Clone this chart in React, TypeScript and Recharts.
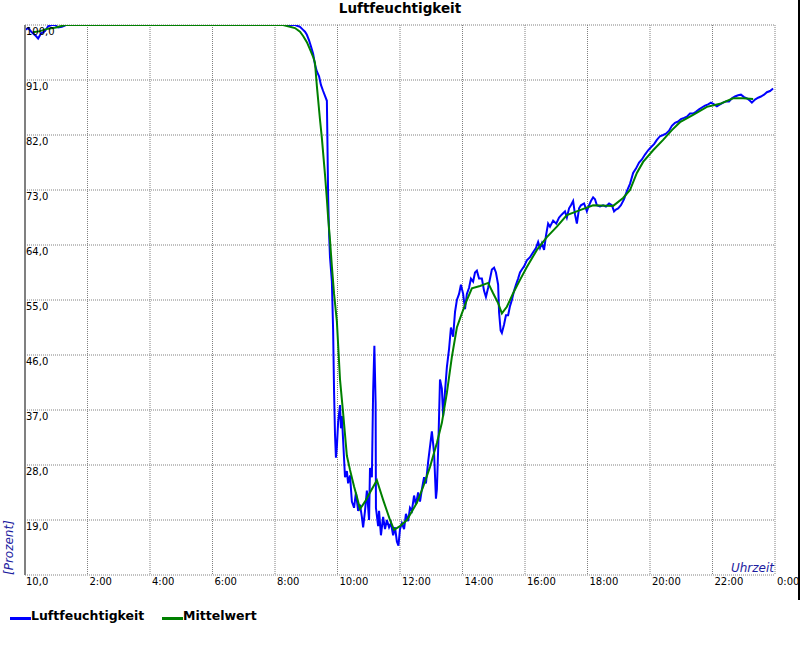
import React from 'react';
import { LineChart, Line, XAxis, YAxis, CartesianGrid, Label } from 'recharts';

// Hours of day (0..24) and relative humidity (%) – measured series
const humidityTimes = [
  0, 0.1, 0.22, 0.35, 0.42, 0.51, 0.64, 0.74, 0.86, 0.96, 1.06, 1.18, 1.31, 8.64,
  8.8, 8.9, 8.96, 9.02, 9.09, 9.15, 9.22, 9.28, 9.34, 9.41, 9.47, 9.54, 9.6, 9.66,
  9.68, 9.7, 9.73, 9.76, 9.82, 9.86, 9.89, 9.92, 9.95, 9.98, 10.02, 10.08, 10.11,
  10.14, 10.18, 10.24, 10.3, 10.34, 10.4, 10.46, 10.53, 10.59, 10.66, 10.72, 10.78,
  10.82, 10.88, 10.94, 11.01, 11.04, 11.1, 11.14, 11.18, 11.22, 11.23, 11.3, 11.33,
  11.39, 11.46, 11.52, 11.58, 11.65, 11.71, 11.78, 11.84, 11.9, 11.95, 12.0, 12.06,
  12.13, 12.19, 12.26, 12.32, 12.38, 12.45, 12.51, 12.58, 12.64, 12.7, 12.77, 12.83,
  12.9, 12.96, 13.02, 13.09, 13.15, 13.18, 13.23, 13.28, 13.34, 13.38, 13.44, 13.5,
  13.57, 13.63, 13.7, 13.76, 13.82, 13.89, 13.95, 14.02, 14.08, 14.14, 14.21, 14.27,
  14.34, 14.4, 14.46, 14.53, 14.62, 14.69, 14.75, 14.82, 14.88, 14.94, 15.01, 15.07,
  15.14, 15.17, 15.22, 15.26, 15.33, 15.39, 15.46, 15.52, 15.58, 15.65, 15.71, 15.78,
  15.84, 15.9, 15.97, 16.06, 16.16, 16.26, 16.35, 16.42, 16.48, 16.54, 16.61, 16.67,
  16.74, 16.8, 16.9, 17.0, 17.09, 17.18, 17.28, 17.34, 17.41, 17.47, 17.54, 17.6,
  17.66, 17.73, 17.79, 17.89, 17.98, 18.05, 18.11, 18.18, 18.24, 18.3, 18.4, 18.5,
  18.59, 18.69, 18.78, 18.85, 18.91, 18.98, 19.07, 19.17, 19.26, 19.36, 19.46, 19.55,
  19.65, 19.74, 19.84, 19.94, 20.03, 20.13, 20.22, 20.32, 20.42, 20.51, 20.61, 20.7,
  20.8, 20.9, 20.99, 21.09, 21.18, 21.28, 21.38, 21.47, 21.57, 21.66, 21.76, 21.86,
  21.95, 22.05, 22.14, 22.24, 22.34, 22.43, 22.53, 22.62, 22.72, 22.82, 22.91, 23.01,
  23.1, 23.2, 23.26, 23.36, 23.46, 23.55, 23.65, 23.74, 23.84, 23.94,
];
const humidityValues = [
  99.2, 99.5, 98.8, 98.2, 97.8, 98.6, 99.0, 99.8, 100, 100, 99.6, 99.7, 100, 100,
  99.7, 99.2, 98.9, 98.4, 97.5, 96.5, 95.3, 93.5, 92.4, 91.6, 90.2, 89.2, 88.4, 87.6,
  80, 72, 66, 62, 58, 50, 40, 33, 29.2, 31, 35, 37.8, 34,
  36, 32, 26, 27, 25, 26.3, 22, 21, 23.5, 20.5, 21.5, 19.5,
  17.8, 20.5, 23.8, 19, 27.5, 26, 40, 47.5, 38, 21, 18, 20.5,
  16.5, 19.5, 17.5, 19, 17.8, 18.5, 16.5, 17.8, 15.5, 14.8, 17.5, 18.5,
  17.5, 20, 18.8, 21, 20.5, 23, 21.5, 23.5, 22, 24, 26, 25,
  28.5, 31, 33.5, 30, 22.5, 24, 32, 42, 40.5, 36, 40, 44,
  47, 50.5, 49, 53, 55, 56, 57.5, 56, 53.5, 56, 57, 58.5,
  58, 59.5, 59.8, 58.5, 58.5, 56.5, 55.5, 57, 58.5, 60, 60.3, 59.5,
  57.5, 53, 50, 49.6, 51, 52.5, 52.5, 54, 55, 56.5, 57.5, 58.5,
  59.5, 60, 60.5, 61.5, 62, 62.8, 63.5, 64.5, 63.5, 64.3, 63.2, 65.5,
  67.5, 67, 68, 67.5, 68.5, 69, 69.5, 68.5, 70, 70.5, 71.2, 69,
  67.5, 70, 70.5, 70.8, 69.5, 70.5, 71.2, 71.8, 71.5, 70.5, 70.3, 70.5,
  70.3, 70.8, 70.5, 69.5, 69.8, 70, 70.5, 71.5, 72.8, 74, 75.8, 76.5,
  77.5, 78, 78.8, 79.5, 80, 80.5, 81.2, 81.8, 82, 82.2, 82.7, 83.5,
  84, 84.2, 84.6, 84.8, 85, 85.5, 85.5, 85.8, 86.2, 86.5, 86.8, 87,
  87.3, 87, 86.7, 87, 87.3, 87.5, 87.5, 88, 88.3, 88.5, 88.6, 88.2,
  88, 87.6, 87.3, 87.8, 88.1, 88.3, 88.6, 89, 89.2, 89.6,
];

// Mittelwert (smoothed mean)
const meanTimes = [
  0.26, 0.48, 0.74, 0.99, 1.28, 8.26, 8.48, 8.64, 8.8, 8.9, 9.02, 9.12, 9.22, 9.28,
  9.34, 9.44, 9.5, 9.6, 9.66, 9.7, 9.76, 9.82, 9.89, 9.98, 10.08, 10.18, 10.3, 10.4,
  10.53, 10.62, 10.72, 10.88, 11.04, 11.26, 11.46, 11.68, 11.81, 12.0, 12.22, 12.54,
  12.74, 12.96, 13.18, 13.34, 13.5, 13.66, 13.82, 13.98, 14.14, 14.3, 14.56, 14.82,
  14.98, 15.14, 15.26, 15.42, 15.62, 15.84, 16.06, 16.38, 16.7, 17.02, 17.34, 17.76,
  18.18, 18.82, 19.14, 19.36, 19.58, 19.78, 20.1, 20.42, 20.7, 20.96, 21.38, 21.82,
  22.24, 22.66, 22.98, 23.3,
];
const meanValues = [
  98.8, 99.0, 99.4, 99.6, 100, 100, 99.7, 99.5, 98.9, 98.2, 97.2, 96, 94.8, 93.8,
  90, 84.5, 81.5, 75.5, 71.5, 68.5, 64.8, 60.5, 56, 51.5, 42, 36.5, 29.5, 27.2,
  24.5, 22.8, 20.8, 22, 23.5, 25.5, 22.3, 19, 17.4, 18, 19, 21.8,
  24.4, 27.7, 31.6, 34.9, 39.8, 45.7, 50.5, 52.8, 55, 56.9, 57.3, 57.8,
  56.1, 54.5, 52.8, 53.9, 56.1, 58.3, 60.4, 63.2, 65.3, 67, 68.9, 69.7,
  70.5, 70.4, 71.7, 73, 75.8, 77.6, 79.5, 81.2, 82.8, 84.1, 85.3, 86.6,
  87.1, 88, 88, 87.9,
];

const yTicks = [10, 19, 28, 37, 46, 55, 64, 73, 82, 91, 100];
const xTicks = [0, 2, 4, 6, 8, 10, 12, 14, 16, 18, 20, 22, 24];
const xTickLabels = ['', '2:00', '4:00', '6:00', '8:00', '10:00', '12:00', '14:00', '16:00', '18:00', '20:00', '22:00', '0:00'];

const humidityData = humidityTimes.map((t, i) => ({ t, v: humidityValues[i] }));
const meanData = meanTimes.map((t, i) => ({ t, v: meanValues[i] }));

const FONT = '"DejaVu Sans", Verdana, sans-serif';

const YTick = (props: any) => {
  const { y, payload } = props;
  return (
    <text x={26} y={y + 10} fontSize={10} fontFamily={FONT} fill="#000">
      {Number(payload.value).toFixed(1).replace('.', ',')}
    </text>
  );
};

const XTick = (props: any) => {
  const { x, payload } = props;
  const idx = xTicks.indexOf(payload.value);
  return (
    <text x={x + 2} y={585} fontSize={10} fontFamily={FONT} fill="#000">
      {xTickLabels[idx]}
    </text>
  );
};

export default function App() {
  return (
    <div style={{ position: 'fixed', left: 0, top: 0, width: 800, height: 650, background: '#fff' }}>
      <div
        style={{
          position: 'absolute', left: 0, top: 0, width: 800, textAlign: 'center',
          fontFamily: FONT, fontWeight: 'bold', fontSize: 13.5, color: '#000', lineHeight: '16px',
        }}
      >
        Luftfeuchtigkeit
      </div>
      <LineChart
        width={800}
        height={650}
        margin={{ top: 25, right: 25, bottom: 74, left: 24 }}
      >
        <CartesianGrid stroke="#808080" strokeDasharray="1 1" />
        <XAxis
          dataKey="t"
          type="number"
          domain={[0, 24]}
          ticks={xTicks}
          height={1}
          axisLine={false}
          tickLine={false}
          tick={<XTick />}
          interval={0}
          allowDataOverflow
        >
          <Label
            content={() => (
              <text x={774} y={572} textAnchor="end" fontSize={12} fontStyle="italic" fontFamily={FONT} fill="#1c1ca0">
                Uhrzeit
              </text>
            )}
          />
        </XAxis>
        <YAxis
          type="number"
          domain={[10, 100]}
          ticks={yTicks}
          width={1}
          axisLine={{ stroke: '#808080', strokeWidth: 2 }}
          tickLine={false}
          tick={<YTick />}
          interval={0}
          allowDataOverflow
        >
          <Label
            content={() => (
              <text
                x={13}
                y={575}
                transform="rotate(-90 13 575)"
                fontSize={12}
                fontStyle="italic"
                fontFamily={FONT}
                fill="#1c1ca0"
              >
                [Prozent]
              </text>
            )}
          />
        </YAxis>
        <Line
          data={humidityData}
          dataKey="v"
          name="Luftfeuchtigkeit"
          type="linear"
          stroke="#0000ff"
          strokeWidth={2}
          dot={false}
          isAnimationActive={false}
        />
        <Line
          data={meanData}
          dataKey="v"
          name="Mittelwert"
          type="linear"
          stroke="#008000"
          strokeWidth={2}
          dot={false}
          isAnimationActive={false}
        />
      </LineChart>
      <div style={{ position: 'absolute', left: 0, top: 608, width: 800, height: 20, fontFamily: FONT, fontWeight: 'bold', fontSize: 12.5, color: '#000' }}>
        <div style={{ position: 'absolute', left: 10, top: 0, display: 'flex', alignItems: 'center' }}>
          <span style={{ display: 'inline-block', width: 21, height: 3, background: '#0000ff', marginTop: 6 }} />
          <span>Luftfeuchtigkeit</span>
        </div>
        <div style={{ position: 'absolute', left: 162, top: 0, display: 'flex', alignItems: 'center' }}>
          <span style={{ display: 'inline-block', width: 21, height: 3, background: '#008000', marginTop: 6 }} />
          <span>Mittelwert</span>
        </div>
      </div>
      <div style={{ position: 'absolute', left: 798, top: 0, width: 2, height: 600, background: '#000' }} />
    </div>
  );
}
